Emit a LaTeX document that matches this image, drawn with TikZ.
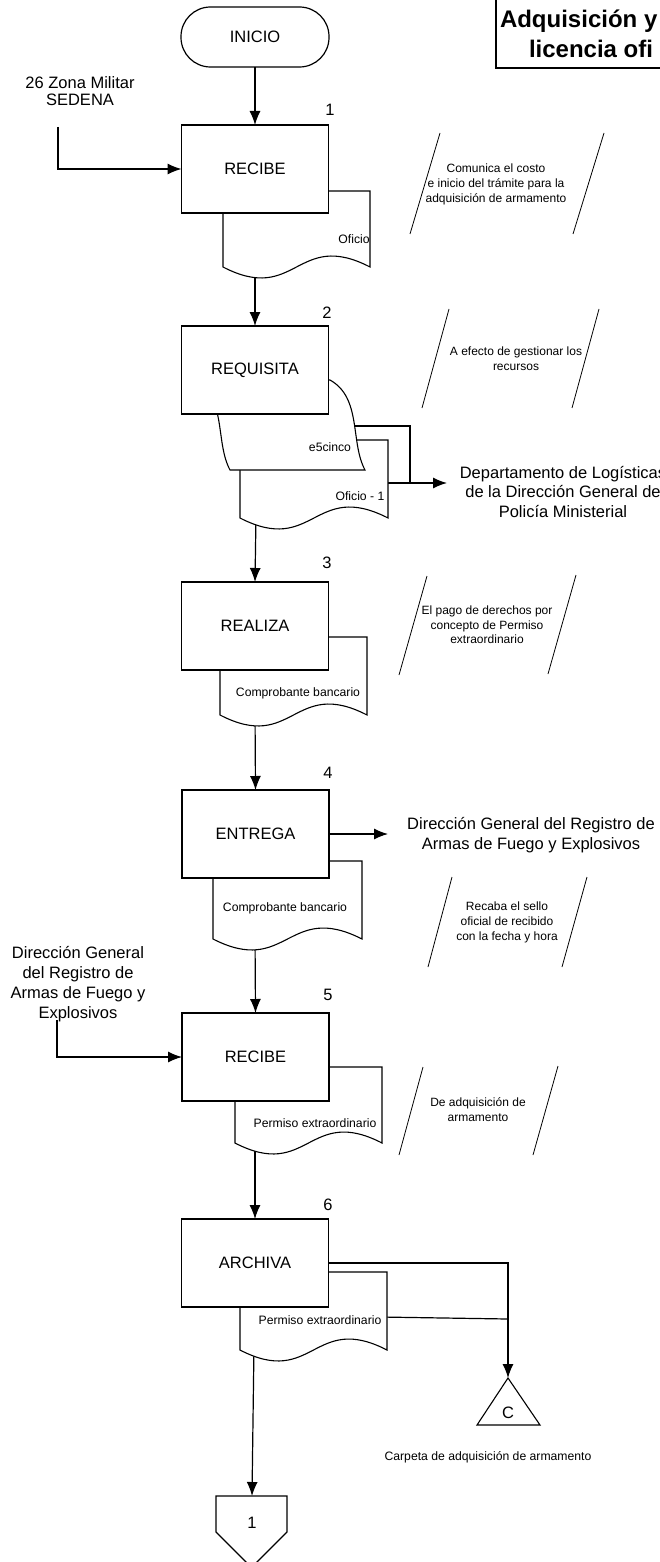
\documentclass[tikz,border=0pt]{standalone}
\usepackage{fontspec}
\setmainfont{Liberation Sans}
\usetikzlibrary{arrows.meta,calc}
\pgfdeclarelayer{bg}
\pgfsetlayers{bg,main}
\newcommand\bigf{\fontsize{16.5}{19.5}\selectfont}
\newcommand\docf{\fontsize{12.2}{15}\selectfont}
\newcommand\annf{\fontsize{12}{15}\selectfont}
\newcommand\ttlf{\fontsize{24}{30}\selectfont\bfseries}
\begin{document}
\begin{tikzpicture}[x=1pt,y=-1pt,
  every node/.style={inner sep=0pt,outer sep=0pt},
  stepbox/.style={draw,fill=white,line width=1.2pt,minimum width=147pt,minimum height=88pt,font=\bigf},
  docpath/.style={draw,fill=white,line width=1.1pt},
  conn/.style={line width=1.2pt},
  arr/.style={line width=1.2pt,-{Latex[length=14pt,width=11pt]}},
  slash/.style={line width=0.8pt},
  bigtxt/.style={font=\bigf,align=center},
  doctxt/.style={font=\docf},
  anntxt/.style={font=\annf,align=center}]
\useasboundingbox (0,0) rectangle (659,1562);
\begin{pgfonlayer}{bg}
\fill[white] (0,0) rectangle (659,1562);
\end{pgfonlayer}

% title frame
\draw[line width=2pt] (496,-5) rectangle (690,68);
\node[font=\ttlf,anchor=base west] (ttl1) at (500,28) {Adquisición y};
\node[font=\ttlf,anchor=base west] (ttl2) at (529,58) {licencia ofi};

% start terminal
\node[draw,fill=white,line width=1.2pt,rounded corners=29.5pt,minimum width=148pt,minimum height=60pt,font=\bigf] (ini) at (255,37) {INICIO};

% ---------- step 1 ----------
\draw[docpath] (223,191) -- (370,191) -- (370,267)
  .. controls (296.5,229) and (296.5,305) .. (223,267) -- cycle;
\node[doctxt] (d1t) at (354,239) {Oficio};
\node[stepbox] (b1) at (255,169) {RECIBE};
\node[font=\bigf] (n1) at (330,110) {1};
\node[bigtxt,font={\fontsize{16.5}{17}\selectfont}] (src1) at (80,91) {26 Zona Militar\\SEDENA};
\coordinate (in1) at (58,127);
\coordinate (d1b) at (255,265);

\draw[slash] (440,133) -- (410,234);
\draw[slash] (604,133) -- (573,234);
\node[anntxt] (a1) at (496,184) {Comunica el costo\\e inicio del trámite para la\\adquisición  de armamento};

% ---------- step 2 ----------
\draw[docpath] (240,440) -- (388,440) -- (388,518)
  .. controls (314,480) and (314,556) .. (240,518) -- cycle;
\node[doctxt] (d2t) at (360,496) {Oficio - 1};
\draw[docpath] (195,380) -- (330,380) .. controls (362,398) and (350,442) .. (365,470)
  -- (230,470) .. controls (215,442) and (227,398) .. (195,380) -- cycle;
\node[doctxt] (e5t) at (330,447) {e5cinco};
\node[stepbox] (b2) at (255,370) {REQUISITA};
\node[font=\bigf] (n2) at (327,313) {2};
\coordinate (e5o) at (350,426);
\coordinate (o1o) at (380,483);
\coordinate (jn) at (410,483);
\coordinate (dpt) at (447,483);
\coordinate (d2b) at (256,515);
\node[bigtxt] (dep) at (563,492) {Departamento de Logísticas\\de la Dirección General de\\Policía Ministerial};

\draw[slash] (449,309) -- (422,408);
\draw[slash] (599,309) -- (572,408);
\node[anntxt] (a2) at (516,359) {A efecto de gestionar los\\recursos};

% ---------- step 3 ----------
\draw[docpath] (220,637) -- (367,637) -- (367,715)
  .. controls (293.5,677) and (293.5,753) .. (220,715) -- cycle;
\node[doctxt] (d3t) at (298,693) {Comprobante bancario};
\node[stepbox] (b3) at (255,626) {REALIZA};
\node[font=\bigf] (n3) at (327,563) {3};
\coordinate (d3b) at (255,712);

\draw[slash] (427,576) -- (399,675);
\draw[slash] (576,575) -- (548,674);
\node[anntxt,font={\fontsize{12}{14.5}\selectfont}] (a3) at (487,625) {El pago de derechos por\\concepto de Permiso\\extraordinario};

% ---------- step 4 ----------
\draw[docpath] (213,861) -- (362,861) -- (362,939)
  .. controls (287.5,901) and (287.5,977) .. (213,939) -- cycle;
\node[doctxt] (d4t) at (285,908) {Comprobante bancario};
\node[stepbox] (b4) at (255.5,834) {ENTREGA};
\node[font=\bigf] (n4) at (328,773) {4};
\coordinate (dgt) at (388,834);
\coordinate (d4b) at (255,936);
\node[bigtxt] (dgr) at (531,835) {Dirección General del Registro de\\Armas de Fuego y Explosivos};

\draw[slash] (452,877) -- (428,967);
\draw[slash] (587,877) -- (562,967);
\node[anntxt] (a4) at (507,922) {Recaba el sello\\oficial de recibido\\con la fecha y hora};

% ---------- step 5 ----------
\draw[docpath] (235,1067) -- (382,1067) -- (382,1143)
  .. controls (308.5,1105) and (308.5,1181) .. (235,1143) -- cycle;
\node[doctxt] (d5t) at (315,1123) {Permiso extraordinario};
\node[stepbox] (b5) at (255.5,1057) {RECIBE};
\node[font=\bigf] (n5) at (328,995) {5};
\node[bigtxt,font={\fontsize{16.5}{20}\selectfont}] (src5) at (78,984) {Dirección General\\del Registro de\\Armas de Fuego y\\Explosivos};
\coordinate (in5) at (57,1020);
\coordinate (d5b) at (255,1140);

\draw[slash] (423,1067) -- (399,1155);
\draw[slash] (558,1066) -- (533,1155);
\node[anntxt] (a5) at (478,1110) {De adquisición de\\armamento};

% ---------- step 6 ----------
\draw[docpath] (240,1272) -- (387,1272) -- (387,1350)
  .. controls (313.5,1312) and (313.5,1388) .. (240,1350) -- cycle;
\node[doctxt] (d6t) at (320,1320) {Permiso extraordinario};
\node[stepbox] (b6) at (255,1263) {ARCHIVA};
\node[font=\bigf] (n6) at (328,1205) {6};
\coordinate (d6o) at (380,1317);
\coordinate (d6j) at (508,1319);
\coordinate (cr) at (508,1263);
\coordinate (d6b) at (254,1345);

% file folder
\draw[line width=1.1pt,fill=white] (508,1378) -- (540,1425) -- (477,1425) -- cycle;
\node[font=\bigf] (cc) at (508,1413) {C};
\coordinate (ctop) at (508,1378);
\node[doctxt] (cap) at (488,1457) {Carpeta de adquisición de armamento};

% off-page connector
\draw[line width=1.1pt,fill=white] (216,1496) -- (287,1496) -- (287,1532) -- (251.5,1567.5) -- (216,1532) -- cycle;
\node[font=\bigf] (off) at (252,1523) {1};
\coordinate (offtop) at (252,1496);

% ---------- connectors ----------
\begin{pgfonlayer}{bg}
\draw[arr] (ini.south) -- (b1.north);
\draw[arr] (in1) |- (b1.west);
\draw[arr] (d1b) -- (b2.north);
\draw[conn] (e5o) -| (jn);
\draw[arr] (o1o) -- (dpt);
\draw[arr] (d2b) -- (b3.north);
\draw[arr] (d3b) -- (b4.north);
\draw[arr] (b4.east) -- (dgt);
\draw[arr] (d4b) -- (b5.north);
\draw[arr] (in5) |- (b5.west);
\draw[arr] (d5b) -- (b6.north);
\draw[arr] (b6.east) -- (cr) -- (ctop);
\draw[conn] (d6o) -- (d6j);
\draw[arr] (d6b) -- (offtop);
\end{pgfonlayer}
\end{tikzpicture}
\end{document}
